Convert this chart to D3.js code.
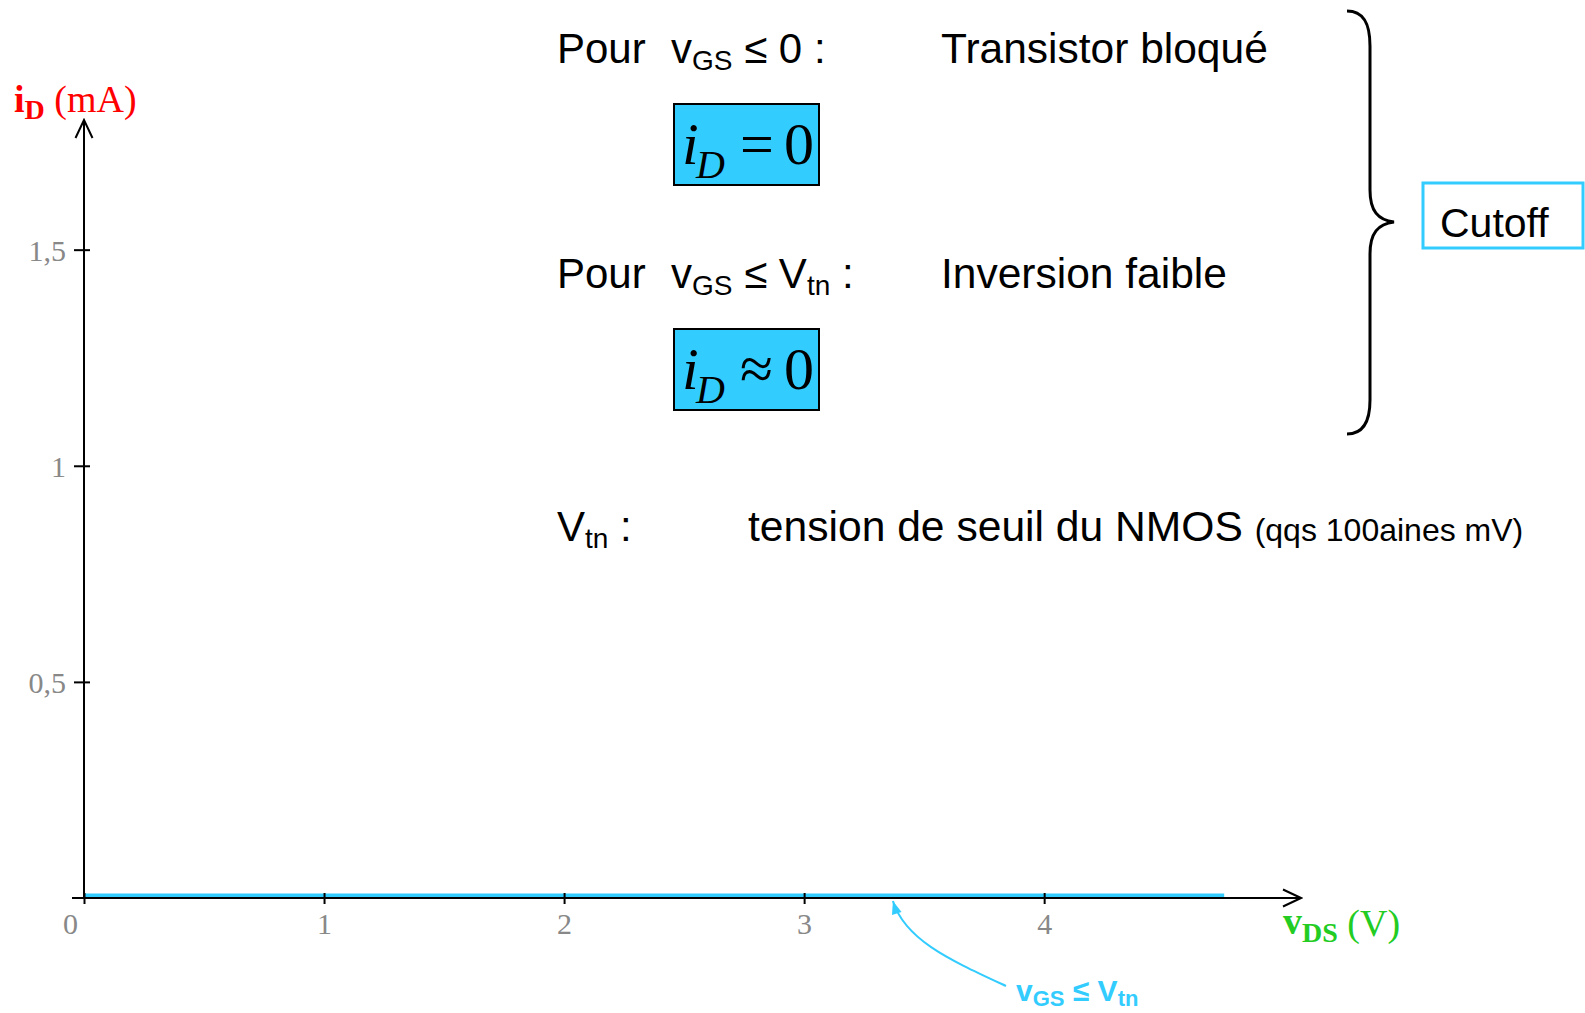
<!DOCTYPE html>
<html>
<head>
<meta charset="utf-8">
<script src="https://cdn.jsdelivr.net/npm/d3@7"></script>
<style>
  body { margin: 0; background: #fff; }
  svg { display: block; }
  .sans { font-family: "Liberation Sans", Arial, sans-serif; }
  .serif { font-family: "Liberation Serif", "Times New Roman", serif; }
</style>
</head>
<body>
<svg id="chart" width="1585" height="1013"></svg>
<script>
// axis ticks
const xTicks = [0, 1, 2, 3, 4];
const xTickLabels = ["0", "1", "2", "3", "4"];
const yTicks = [0.5, 1, 1.5];
const yTickLabels = ["0,5", "1", "1,5"];
const xMax = 5.07;   // end of the v_DS arrow
const yMax = 1.8;    // end of the i_D arrow

// cutoff characteristic: i_D = 0 along v_DS
const curveVds = [0, 4.75];
const curveId = [0, 0];

// point targeted by the "vGS <= Vtn" annotation
const notePoint = [3.37, 0];

const BLUE = "#33ccff";

var svg = d3.select("#chart"),
  margin = { top: 120, right: 284, bottom: 115, left: 84 },
  width = +svg.attr("width") - margin.left - margin.right,
  height = +svg.attr("height") - margin.top - margin.bottom;

svg.append("rect").attr("width", 1585).attr("height", 1013).attr("fill", "#fff");

const xScale = d3.scaleLinear().domain([0, xMax]).range([margin.left, margin.left + width]);
const yScale = d3.scaleLinear().domain([0, yMax]).range([margin.top + height, margin.top]);

const defs = svg.append("defs");
defs.append("marker")
  .attr("id", "open-arrow")
  .attr("viewBox", "-20 -10 22 20")
  .attr("refX", 0).attr("refY", 0)
  .attr("markerWidth", 22).attr("markerHeight", 20)
  .attr("markerUnits", "userSpaceOnUse")
  .attr("orient", "auto")
  .append("path")
  .attr("d", "M-18,-8.5 L0,0 L-18,8.5")
  .attr("fill", "none").attr("stroke", "#000").attr("stroke-width", 2);
defs.append("marker")
  .attr("id", "blue-arrow")
  .attr("viewBox", "-14 -6 16 12")
  .attr("refX", 0).attr("refY", 0)
  .attr("markerWidth", 16).attr("markerHeight", 12)
  .attr("markerUnits", "userSpaceOnUse")
  .attr("orient", "auto")
  .append("path")
  .attr("d", "M-13,-5 L0,0 L-13,5 Z")
  .attr("fill", BLUE);

// cutoff curve (drawn just above the axis line, as in the figure)
const line = d3.line().x((d) => xScale(d[0])).y((d) => yScale(d[1]) - 2.5);
svg.append("path")
  .datum(curveVds.map((v, i) => [v, curveId[i]]))
  .attr("d", line)
  .attr("fill", "none")
  .attr("stroke", BLUE)
  .attr("stroke-width", 4);

// x axis
const xAxis = d3.axisBottom(xScale)
  .tickValues(xTicks)
  .tickSize(0)
  .tickFormat((d, i) => xTickLabels[i]);
svg.append("g")
  .attr("transform", `translate(0, ${yScale(0)})`)
  .call(xAxis)
  .call((g) => g.select(".domain").remove())
  .call((g) => g.selectAll(".tick line").attr("y1", -5).attr("y2", 6)
    .attr("stroke", "#000").attr("stroke-width", 2))
  .call((g) => g.selectAll(".tick text")
    .attr("class", "serif")
    .attr("y", 36).attr("dy", 0)
    .attr("dx", (d) => (d === 0 ? -14 : 0))
    .attr("fill", "#888")
    .style("font-size", "30px"));
svg.append("line")
  .attr("x1", xScale(0) - 12).attr("x2", xScale(xMax))
  .attr("y1", yScale(0)).attr("y2", yScale(0))
  .attr("stroke", "#000").attr("stroke-width", 2)
  .attr("marker-end", "url(#open-arrow)");

// y axis
const yAxis = d3.axisLeft(yScale)
  .tickValues(yTicks)
  .tickSize(0)
  .tickFormat((d, i) => yTickLabels[i]);
svg.append("g")
  .attr("transform", `translate(${xScale(0)}, 0)`)
  .call(yAxis)
  .call((g) => g.select(".domain").remove())
  .call((g) => g.selectAll(".tick line").attr("x1", -10).attr("x2", 6)
    .attr("stroke", "#000").attr("stroke-width", 2))
  .call((g) => g.selectAll(".tick text")
    .attr("class", "serif")
    .attr("x", -18).attr("dy", "0.36em")
    .attr("fill", "#888")
    .style("font-size", "30px"));
svg.append("line")
  .attr("x1", xScale(0)).attr("x2", xScale(0))
  .attr("y1", yScale(0)).attr("y2", yScale(yMax))
  .attr("stroke", "#000").attr("stroke-width", 2)
  .attr("marker-end", "url(#open-arrow)");

// axis titles
const yTitle = svg.append("text").attr("class", "serif")
  .attr("x", 14).attr("y", 112).attr("fill", "#ff0000").style("font-size", "38px");
yTitle.append("tspan").attr("font-weight", "bold").text("i");
yTitle.append("tspan").attr("font-weight", "bold").attr("dy", 7).style("font-size", "28px").text("D");
yTitle.append("tspan").attr("dy", -7).text(" (mA)");

const xTitle = svg.append("text").attr("class", "serif")
  .attr("x", 1283).attr("y", 934).attr("fill", "#22cc22").style("font-size", "38px");
xTitle.append("tspan").attr("font-weight", "bold").text("v");
xTitle.append("tspan").attr("font-weight", "bold").attr("dy", 8).style("font-size", "28px").text("DS");
xTitle.append("tspan").attr("dy", -6).text(" (V)");

// annotation arrow to the curve
const tip = [xScale(notePoint[0]), yScale(notePoint[1]) + 3];
svg.append("path")
  .attr("d", `M1006,986 C950,960 905,940 ${tip[0]},${tip[1]}`)
  .attr("fill", "none").attr("stroke", BLUE).attr("stroke-width", 2)
  .attr("marker-end", "url(#blue-arrow)");
const note = svg.append("text").attr("class", "sans")
  .attr("x", 1016).attr("y", 1001).attr("fill", BLUE)
  .attr("font-weight", "bold").style("font-size", "30px");
note.append("tspan").text("v");
note.append("tspan").attr("dy", 5).style("font-size", "22px").text("GS");
note.append("tspan").attr("dy", -5).text(" \u2264 V");
note.append("tspan").attr("dy", 5).style("font-size", "22px").text("tn");

// text blocks
function condition(yBase, rhsParts, comment) {
  const t = svg.append("text").attr("class", "sans").attr("y", yBase)
    .style("font-size", "42px").attr("fill", "#000");
  t.append("tspan").attr("x", 557).text("Pour");
  t.append("tspan").attr("x", 671).text("v");
  t.append("tspan").attr("dy", 7).style("font-size", "28px").text("GS");
  t.append("tspan").attr("dy", -7).text(" \u2264 ");
  rhsParts.forEach((p) => {
    if (p.sub) t.append("tspan").attr("dy", 7).style("font-size", "28px").text(p.text);
    else t.append("tspan").attr("dy", p.dy || 0).text(p.text);
  });
  svg.append("text").attr("class", "sans").attr("x", 941).attr("y", yBase)
    .style("font-size", "42.5px").text(comment);
}
condition(63, [{ text: "0 :" }], "Transistor bloqué");
condition(288, [{ text: "V" }, { text: "tn", sub: true }, { text: " :", dy: -7 }], "Inversion faible");

function formulaBox(top, rel) {
  svg.append("rect").attr("x", 674).attr("y", top).attr("width", 145).attr("height", 81)
    .attr("fill", BLUE).attr("stroke", "#000").attr("stroke-width", 2);
  const base = top + 60;
  svg.append("text").attr("class", "serif").attr("x", 682).attr("y", base)
    .attr("font-style", "italic").style("font-size", "60px").text("i");
  svg.append("text").attr("class", "serif").attr("x", 696).attr("y", base + 14)
    .attr("font-style", "italic").style("font-size", "40px").text("D");
  svg.append("text").attr("class", "serif").attr("x", 740).attr("y", base)
    .style("font-size", "60px").text(rel);
  svg.append("text").attr("class", "serif").attr("x", 784).attr("y", base)
    .style("font-size", "60px").text("0");
}
formulaBox(104, "=");
formulaBox(329, "\u2248");

const vtn = svg.append("text").attr("class", "sans").attr("y", 541).style("font-size", "42px");
vtn.append("tspan").attr("x", 557).text("V");
vtn.append("tspan").attr("dy", 7).style("font-size", "28px").text("tn");
vtn.append("tspan").attr("dy", -7).text(" :");
const seuil = svg.append("text").attr("class", "sans").attr("x", 748).attr("y", 541).style("font-size", "42.6px");
seuil.append("tspan").text("tension de seuil du NMOS ");
seuil.append("tspan").style("font-size", "32px").text("(qqs 100aines mV)");

// brace + Cutoff label
svg.append("path")
  .attr("d", "M1347,11 C1364,11 1370,24 1370,46 L1370,190 C1370,211 1378,220 1394,222 C1378,224 1370,233 1370,254 L1370,400 C1370,421 1364,434 1347,434")
  .attr("fill", "none").attr("stroke", "#000").attr("stroke-width", 3);
svg.append("rect").attr("x", 1423).attr("y", 183).attr("width", 160).attr("height", 65)
  .attr("fill", "none").attr("stroke", BLUE).attr("stroke-width", 3);
svg.append("text").attr("class", "sans").attr("x", 1440).attr("y", 237)
  .style("font-size", "41px").text("Cutoff");
</script>
</body>
</html>
